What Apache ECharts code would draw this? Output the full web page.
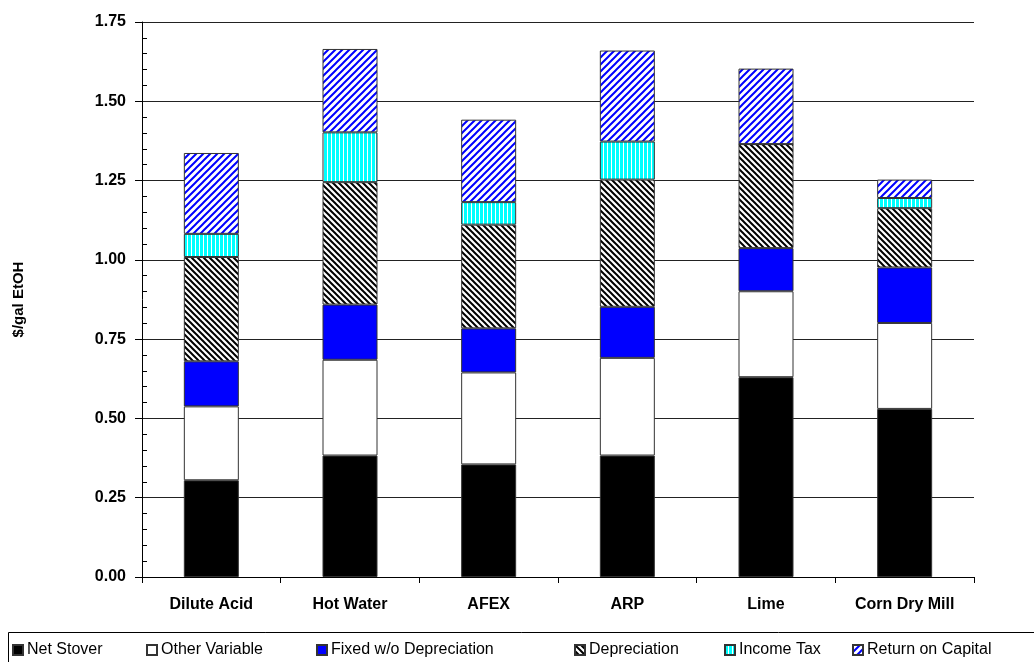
<!DOCTYPE html>
<html>
<head>
<meta charset="utf-8">
<script src="https://cdn.jsdelivr.net/npm/echarts@6/dist/echarts.min.js"></script>
<style>
  html, body { margin: 0; padding: 0; background: #fff; }
  #chart { width: 1034px; height: 662px; }
</style>
</head>
<body>
<div id="chart"></div>
<script>
// Ethanol production cost breakdown by pretreatment technology ($/gal EtOH)
const categories = ['Dilute Acid', 'Hot Water', 'AFEX', 'ARP', 'Lime', 'Corn Dry Mill'];

const netStover      = [0.305, 0.383, 0.355, 0.383, 0.630, 0.530];
const otherVariable  = [0.233, 0.302, 0.290, 0.308, 0.271, 0.271];
const fixedNoDepr    = [0.142, 0.174, 0.139, 0.161, 0.136, 0.175];
const depreciation   = [0.329, 0.386, 0.327, 0.401, 0.328, 0.187];
const incomeTax      = [0.073, 0.157, 0.071, 0.120, 0.000, 0.032];
const returnCapital  = [0.255, 0.263, 0.260, 0.287, 0.238, 0.058];

const seriesNames = ['Net Stover', 'Other Variable', 'Fixed w/o Depreciation',
                     'Depreciation', 'Income Tax', 'Return on Capital'];
const yTicks = { min: 0, max: 1.75, interval: 0.25 };

// Diagonal hatch tile; dir = 1 for "/" lines, -1 for "\" lines
function hatch(bg, fg, size, width, dir) {
  const c = document.createElement('canvas');
  c.width = size; c.height = size;
  const g = c.getContext('2d');
  g.fillStyle = bg; g.fillRect(0, 0, size, size);
  g.strokeStyle = fg; g.lineWidth = width; g.lineCap = 'square';
  for (let k = -1; k <= 1; k++) {
    g.beginPath();
    if (dir > 0) { g.moveTo(k * size, size); g.lineTo(k * size + size, 0); }
    else { g.moveTo(k * size, 0); g.lineTo(k * size + size, size); }
    g.stroke();
  }
  return { image: c, repeat: 'repeat' };
}

// Vertical stripe tile
function vstripe(bg, fg, size, width) {
  const c = document.createElement('canvas');
  c.width = size; c.height = size;
  const g = c.getContext('2d');
  g.fillStyle = bg; g.fillRect(0, 0, size, size);
  g.fillStyle = fg; g.fillRect(size - width, 0, width, size);
  return { image: c, repeat: 'repeat' };
}

const fills = [
  '#000000',
  '#ffffff',
  '#0000ff',
  hatch('#ffffff', '#000000', 6, 2.0, -1),
  vstripe('#00ffff', '#ffffff', 4, 1),
  hatch('#ffffff', '#0000ff', 7, 2.0, 1)
];

const dataSets = [netStover, otherVariable, fixedNoDepr, depreciation, incomeTax, returnCapital];

const series = dataSets.map((d, i) => ({
  name: seriesNames[i],
  type: 'bar',
  stack: 'cost',
  barWidth: 55,
  data: d,
  itemStyle: { color: fills[i], borderColor: '#333333', borderWidth: 1 },
  emphasis: { disabled: true }
}));

const legendLefts = [12, 146, 316, 574, 724, 852];
const legends = seriesNames.map((n, i) => ({
  data: [n],
  left: legendLefts[i],
  top: 642,
  padding: 0,
  icon: 'rect',
  itemWidth: 10,
  itemHeight: 10,
  selectedMode: false,
  textStyle: { fontFamily: 'Liberation Sans', fontSize: 16, color: '#000', padding: [0, 0, 0, -1] }
}));

const chart = echarts.init(document.getElementById('chart'), null, { renderer: 'canvas' });
chart.setOption({
  animation: false,
  backgroundColor: '#ffffff',
  grid: { left: 142, right: 60, top: 22, bottom: 85, containLabel: false },
  legend: legends,
  graphic: [{
    type: 'rect',
    shape: { x: 8.5, y: 632.5, width: 1040, height: 40 },
    style: { fill: 'none', stroke: '#000', lineWidth: 1 },
    silent: true
  }],
  xAxis: {
    type: 'category',
    data: categories,
    axisLine: { lineStyle: { color: '#000', width: 1 } },
    axisTick: { show: true, length: 6, lineStyle: { color: '#000' } },
    axisLabel: { margin: 20, color: '#000', fontWeight: 'bold', fontSize: 16, fontFamily: 'Liberation Sans' }
  },
  yAxis: [{
    type: 'value',
    min: yTicks.min, max: yTicks.max, interval: yTicks.interval,
    name: '$/gal EtOH',
    nameLocation: 'middle',
    nameRotate: 90,
    nameGap: 116,
    nameTextStyle: { color: '#000', fontWeight: 'bold', fontSize: 15, fontFamily: 'Liberation Sans' },
    axisLine: { show: true, lineStyle: { color: '#000', width: 1 } },
    axisTick: { show: true, length: 7, lineStyle: { color: '#000' } },
    axisLabel: {
      margin: 16, color: '#000', fontWeight: 'bold', fontSize: 16, fontFamily: 'Liberation Sans',
      formatter: v => v.toFixed(2)
    },
    splitLine: { show: true, lineStyle: { color: '#222', width: 1 } }
  }, {
    // minor ticks drawn on the inner side of the value axis
    type: 'value',
    position: 'left',
    min: yTicks.min, max: yTicks.max, interval: yTicks.interval,
    axisLine: { show: false },
    axisTick: { show: false, inside: true },
    minorTick: { show: true, splitNumber: 5, length: 5, lineStyle: { color: '#000' } },
    axisLabel: { show: false },
    splitLine: { show: false }
  }],
  series: series
});
</script>
</body>
</html>
